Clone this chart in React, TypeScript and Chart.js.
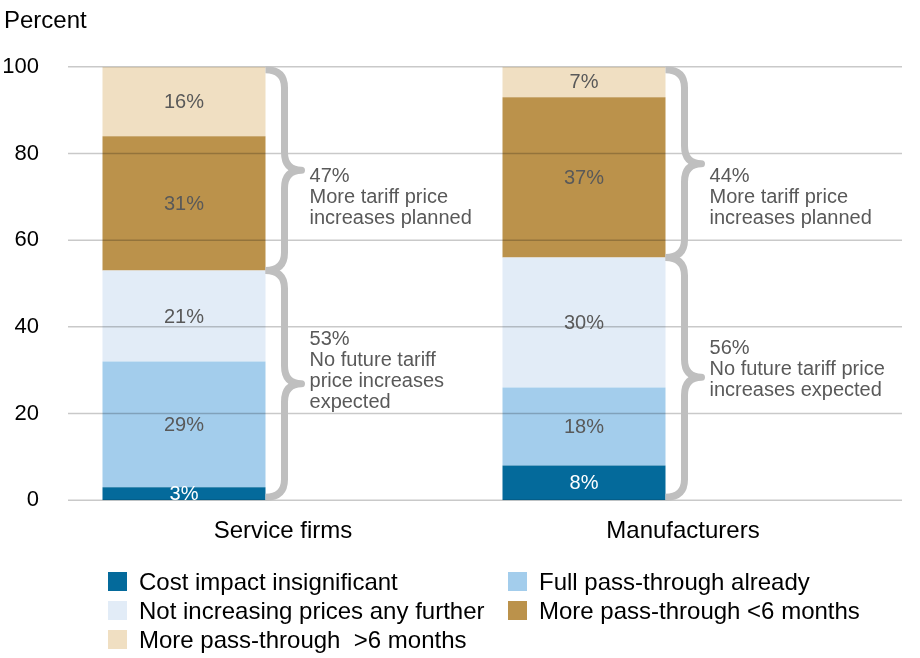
import React, { useEffect, useRef } from 'react';
import { Chart, registerables } from 'chart.js';

Chart.register(...registerables);

const FONT = '"Liberation Sans", Arial, Helvetica, sans-serif';

// ---- data ----
const categories = ['Service firms', 'Manufacturers'];
const seriesNames = [
  'Cost impact insignificant',
  'Full pass-through already',
  'Not increasing prices any further',
  'More pass-through <6 months',
  'More pass-through  >6 months',
];
const costImpactInsignificant = [3, 8];
const fullPassThroughAlready = [29, 18];
const notIncreasingFurther = [21, 30];
const morePassThroughUnder6 = [31, 37];
const morePassThroughOver6 = [16, 7];
const seriesValues = [
  costImpactInsignificant,
  fullPassThroughAlready,
  notIncreasingFurther,
  morePassThroughUnder6,
  morePassThroughOver6,
];
const yTicks = [0, 20, 40, 60, 80, 100];

// bracket groups (dataset indices)
const noFutureGroup = [0, 1, 2];
const plannedGroup = [3, 4];
const plannedText = [
  ['More tariff price', 'increases planned'],
  ['More tariff price', 'increases planned'],
];
const noFutureText = [
  ['No future tariff', 'price increases', 'expected'],
  ['No future tariff price', 'increases expected'],
];
// value (y-axis units) at which the first annotation line sits
const plannedTextAt = [74.8, 74.8];
const noFutureTextAt = [37.0, 35.0];

// ---- styles ----
const seriesColors = ['#046A9B', '#A3CDEC', '#E2ECF7', '#BB924B', '#F0DFC2'];
const valueLabelColors = ['#FFFFFF', '#595959', '#595959', '#595959', '#595959'];
const GRID_COLOR = 'rgba(0,0,0,0.21)';
const BRACE_COLOR = '#BFBFBF';
const NOTE_COLOR = '#595959';

const sum = (a: number[]) => a.reduce((s, v) => s + v, 0);

function drawBrace(ctx: CanvasRenderingContext2D, x0: number, yT: number, yB: number) {
  const k = 18;
  const xv = x0 + 19;
  const xt = x0 + 36;
  const yM = (yT + yB) / 2;
  ctx.beginPath();
  ctx.moveTo(x0, yT);
  ctx.quadraticCurveTo(xv, yT, xv, yT + k);
  ctx.lineTo(xv, yM - k);
  ctx.quadraticCurveTo(xv, yM, xt, yM);
  ctx.quadraticCurveTo(xv, yM, xv, yM + k);
  ctx.lineTo(xv, yB - k);
  ctx.quadraticCurveTo(xv, yB, x0, yB);
  ctx.stroke();
}

const overlayPlugin = {
  id: 'overlay',
  afterDatasetsDraw(chart: any) {
    const { ctx, chartArea } = chart;
    const y = chart.scales.y;
    ctx.save();

    // gridlines (over bars, extended past the plot area)
    ctx.strokeStyle = GRID_COLOR;
    ctx.lineWidth = 1.5;
    yTicks.forEach((v) => {
      const py = y.getPixelForValue(v);
      ctx.beginPath();
      ctx.moveTo(chartArea.left - 12, py);
      ctx.lineTo(chartArea.right + 22, py);
      ctx.stroke();
    });

    // value labels
    ctx.font = `20px ${FONT}`;
    ctx.textAlign = 'center';
    ctx.textBaseline = 'middle';
    seriesValues.forEach((vals, di) => {
      const meta = chart.getDatasetMeta(di);
      meta.data.forEach((bar: any, i: number) => {
        const p = bar.getProps(['x', 'y', 'base'], true);
        ctx.fillStyle = valueLabelColors[di];
        ctx.fillText(`${vals[i]}%`, p.x, (p.y + p.base) / 2 + 1);
      });
    });

    // braces and notes
    categories.forEach((_, i) => {
      const bar = chart.getDatasetMeta(0).data[i];
      const p = bar.getProps(['x', 'width'], true);
      const x0 = p.x + p.width / 2;
      const low = sum(noFutureGroup.map((d) => seriesValues[d][i]));
      const high = sum(plannedGroup.map((d) => seriesValues[d][i]));
      ctx.strokeStyle = BRACE_COLOR;
      ctx.lineWidth = 7;
      ctx.lineCap = 'butt';
      ctx.lineJoin = 'round';
      drawBrace(ctx, x0, y.getPixelForValue(low + high) + 3, y.getPixelForValue(low));
      drawBrace(ctx, x0, y.getPixelForValue(low), y.getPixelForValue(0) - 3);

      ctx.fillStyle = NOTE_COLOR;
      ctx.textAlign = 'left';
      ctx.textBaseline = 'middle';
      const tx = x0 + 44;
      const upper = [`${high}%`, ...plannedText[i]];
      const py1 = y.getPixelForValue(plannedTextAt[i]);
      upper.forEach((t, k) => ctx.fillText(t, tx, py1 + k * 21));
      const lower = [`${low}%`, ...noFutureText[i]];
      const py2 = y.getPixelForValue(noFutureTextAt[i]);
      lower.forEach((t, k) => ctx.fillText(t, tx, py2 + k * 21));
    });

    ctx.restore();
  },
};

export default function App() {
  const ref = useRef<HTMLCanvasElement>(null);

  useEffect(() => {
    if (!ref.current) return;
    const barOpts = { categoryPercentage: 0.96, barPercentage: 0.849, borderWidth: 0 };
    const chart = new Chart(ref.current, {
      type: 'bar',
      data: {
        labels: categories,
        datasets: [
          ...seriesValues.map((vals, i) => ({
            label: seriesNames[i],
            data: vals,
            backgroundColor: seriesColors[i],
            stack: 'main',
            ...barOpts,
          })),
          {
            label: 'spacer',
            data: categories.map(() => 0),
            backgroundColor: 'rgba(0,0,0,0)',
            stack: 'spacer',
            ...barOpts,
          },
        ],
      },
      options: {
        animation: false,
        responsive: true,
        maintainAspectRatio: false,
        events: [],
        layout: { padding: { left: 4, right: 40, top: 0, bottom: 95 } },
        plugins: {
          legend: { display: false },
          tooltip: { enabled: false },
          title: {
            display: true,
            text: 'Percent',
            align: 'start',
            color: '#000000',
            font: { family: FONT, size: 24, weight: 'normal' },
            padding: { top: 7, bottom: 31 },
          },
        },
        scales: {
          x: {
            stacked: true,
            offset: true,
            grid: { display: false, drawTicks: false },
            border: { display: false },
            ticks: {
              color: '#000000',
              font: { family: FONT, size: 24 },
              padding: 17,
              labelOffset: 3,
            },
          },
          y: {
            stacked: true,
            min: 0,
            max: 100,
            grid: { display: false, drawTicks: false },
            border: { display: false },
            afterFit: (scale: any) => {
              scale.width = 76;
            },
            afterBuildTicks: (scale: any) => {
              scale.ticks = yTicks.map((v) => ({ value: v }));
            },
            ticks: {
              color: '#000000',
              font: { family: FONT, size: 22 },
              padding: 41,
            },
          },
        },
      } as any,
      plugins: [overlayPlugin],
    });
    return () => chart.destroy();
  }, []);

  return (
    <div style={{ position: 'absolute', left: 0, top: 0, width: 920, height: 658, background: '#ffffff' }}>
      <div style={{ position: 'absolute', left: 0, top: 0, width: 920, height: 658 }}>
        <canvas ref={ref} />
      </div>
      <div
        style={{
          position: 'absolute',
          left: 108,
          top: 567,
          display: 'grid',
          gridTemplateColumns: '400px 400px',
          gridAutoRows: '29px',
          fontFamily: FONT,
          fontSize: 24,
          color: '#000000',
        }}
      >
        {seriesNames.map((name, i) => (
          <div key={name} style={{ display: 'flex', alignItems: 'center', height: 29 }}>
            <span
              style={{
                display: 'inline-block',
                width: 19,
                height: 19,
                background: seriesColors[i],
                marginRight: 12,
                flex: 'none',
              }}
            />
            <span style={{ whiteSpace: 'pre', lineHeight: '29px' }}>{name}</span>
          </div>
        ))}
      </div>
    </div>
  );
}
